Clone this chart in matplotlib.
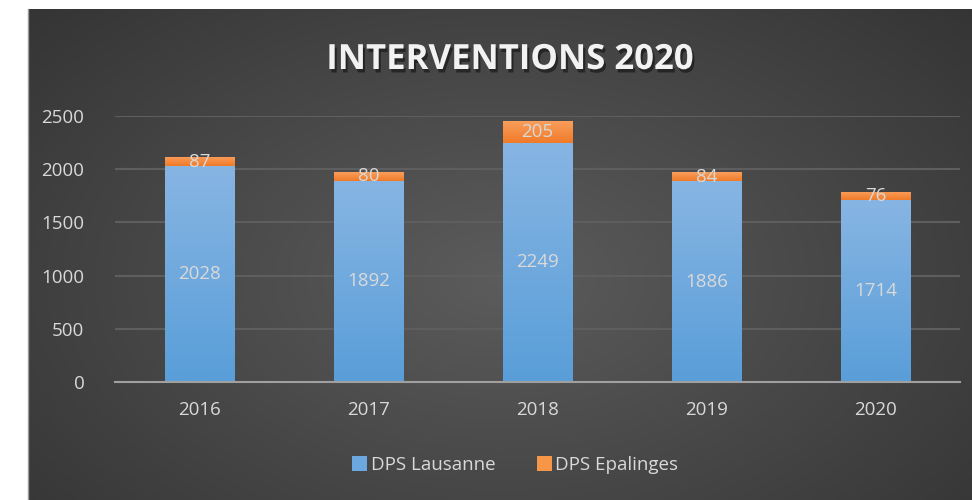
import matplotlib.pyplot as plt
import matplotlib.patheffects as pe
from matplotlib.patches import Rectangle
import numpy as np

plt.rcParams["font.family"] = ["Open Sans", "DejaVu Sans"]

years = ["2016", "2017", "2018", "2019", "2020"]
lausanne = [2028, 1892, 2249, 1886, 1714]
epalinges = [87, 80, 205, 84, 76]

TXT = "#d9d9d9"

fig = plt.figure(figsize=(9.72, 5.0), dpi=100, facecolor="white")

# dark radial background of the chart area
bg = fig.add_axes([28 / 972, 0, 944 / 972, 491 / 500])
yy, xx = np.mgrid[0:1:300j, 0:1:600j]
r = np.sqrt(((xx - 0.5) / 0.75) ** 2 + ((yy - 0.45) / 0.9) ** 2)
shade = np.clip(0.36 - 0.17 * r, 0.2, 0.36)
bg.imshow(np.dstack([shade] * 3), extent=[0, 1, 0, 1], aspect="auto", origin="lower")
bg.set_xlim(0, 1)
bg.set_ylim(0, 1)
bg.axis("off")
fig.add_artist(plt.Line2D([28 / 972, 28 / 972], [0, 491 / 500], color="#9a9a9a", lw=1))

ax = fig.add_axes([115 / 972, 118 / 500, 845 / 972, 266 / 500])
ax.set_facecolor("none")
x = np.arange(len(years))
w = 0.41


def gradient_bars(bars, top, bottom):
    for b in bars:
        x0, y0 = b.get_x(), b.get_y()
        bw, bh = b.get_width(), b.get_height()
        grad = np.linspace(0, 1, 100).reshape(-1, 1)
        c = np.array(bottom) + (np.array(top) - np.array(bottom)) * grad
        img = ax.imshow(c.reshape(100, 1, 3), extent=[x0, x0 + bw, y0, y0 + bh],
                        origin="lower", aspect="auto", zorder=3)
        img.set_clip_path(b)
        b.set_facecolor("none")


b1 = ax.bar(x, lausanne, w, color="#5b9bd5", edgecolor="#4a7fb0", lw=0.6, zorder=3)
b2 = ax.bar(x, epalinges, w, bottom=lausanne, color="#f79646", edgecolor="#c0702f",
            lw=0.6, zorder=3)
gradient_bars(b1, (0.53, 0.71, 0.89), (0.35, 0.62, 0.85))
gradient_bars(b2, (0.98, 0.62, 0.36), (0.94, 0.48, 0.16))

for i in range(len(years)):
    ax.text(x[i], lausanne[i] / 2, str(lausanne[i]), ha="center", va="center",
            color=TXT, fontsize=13.5, zorder=5)
    ax.text(x[i], lausanne[i] + epalinges[i] / 2, str(epalinges[i]), ha="center",
            va="center", color=TXT, fontsize=13.5, zorder=5)

ax.set_xlim(-0.5, len(years) - 0.5)
ax.set_ylim(0, 2500)
ax.set_yticks(range(0, 2501, 500))
ax.set_xticks(x)
ax.set_xticklabels(years)
ax.yaxis.grid(True, color="#5e5e5e", lw=1.5, zorder=0)
ax.set_axisbelow(True)
for s in ["top", "right", "left"]:
    ax.spines[s].set_visible(False)
ax.spines["bottom"].set_color("#a0a0a0")
ax.spines["bottom"].set_linewidth(1.5)
ax.spines["bottom"].set_zorder(4)
ax.tick_params(length=0, labelcolor=TXT, labelsize=13.5)
ax.tick_params(axis="y", pad=22)
ax.tick_params(axis="x", pad=14)

fig.text(0.525, 0.88, "INTERVENTIONS 2020", ha="center", va="center", color="#f2f2f2",
         fontsize=25, fontweight="bold",
         path_effects=[pe.withSimplePatchShadow(offset=(1.5, -2.5), shadow_rgbFace="black",
                                                alpha=0.45)])

handles = [Rectangle((0, 0), 1, 1, fc="#6aa8df"), Rectangle((0, 0), 1, 1, fc="#f79646")]
fig.legend(handles, ["DPS Lausanne", "DPS Epalinges"], loc="center",
           bbox_to_anchor=(0.53, 0.07), ncol=2, frameon=False, labelcolor=TXT,
           fontsize=13.5, handlelength=0.8, handleheight=0.8, handletextpad=0.2,
           columnspacing=2.2)

fig.savefig("out.png", dpi=100, facecolor="white")
